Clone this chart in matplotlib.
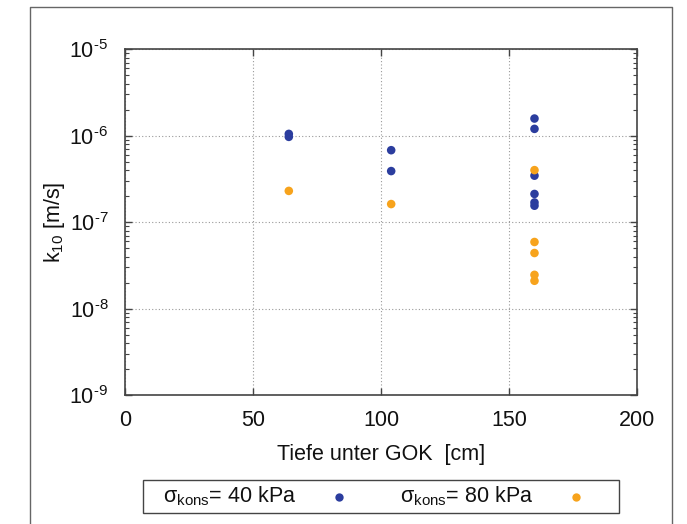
import matplotlib
matplotlib.use("Agg")
import matplotlib.pyplot as plt
from matplotlib.lines import Line2D
from matplotlib.patches import Rectangle
from matplotlib.ticker import LogLocator, NullFormatter, FixedLocator, FuncFormatter
import numpy as np

plt.rcParams['font.family'] = ['Liberation Sans', 'DejaVu Sans']
plt.rcParams['mathtext.fontset'] = 'custom'
plt.rcParams['mathtext.rm'] = 'Liberation Sans'
plt.rcParams['mathtext.it'] = 'Liberation Sans:italic'
plt.rcParams['mathtext.default'] = 'regular'

# Hydraulic conductivity k10 versus depth below ground level
depth_40 = [64, 64, 104, 104, 160, 160, 160, 160, 160, 160]
k10_40 = [1.05e-6, 0.97e-6, 6.8e-7, 3.9e-7, 1.58e-6, 1.2e-6, 3.45e-7, 2.12e-7, 1.69e-7, 1.55e-7]

depth_80 = [64, 104, 160, 160, 160, 160, 160]
k10_80 = [2.3e-7, 1.62e-7, 4.0e-7, 5.9e-8, 4.4e-8, 2.46e-8, 2.1e-8]

label_40 = r'σ$_{kons}$= 40 kPa'
label_80 = r'σ$_{kons}$= 80 kPa'
x_ticks = [0, 50, 100, 150, 200]

blue = '#2b3d9e'
orange = '#f7a31c'
frame_col = '#444444'
text_col = '#111111'
fs = 15.5

fig = plt.figure(figsize=(6.87, 5.24), dpi=100)
ax = fig.add_axes([0.182, 0.246, 0.745, 0.660])

ax.scatter(depth_40, k10_40, s=38, color=blue, edgecolors='none', zorder=3)
ax.scatter(depth_80, k10_80, s=38, color=orange, edgecolors='none', zorder=3)

ax.set_yscale('log')
ax.set_xlim(0, 200)
ax.set_ylim(1e-9, 1e-5)
ax.xaxis.set_major_locator(FixedLocator(x_ticks))
ax.yaxis.set_major_locator(LogLocator(base=10, numticks=10))
ax.yaxis.set_minor_locator(LogLocator(base=10, subs=range(2, 10), numticks=10))
ax.yaxis.set_minor_formatter(NullFormatter())


def pow10(v, pos):
    e = int(round(np.log10(v)))
    sign = '\u2010' if e < 0 else ''
    return r'10$^{%s%d}$' % (sign, abs(e))


ax.yaxis.set_major_formatter(FuncFormatter(pow10))

ax.grid(True, which='major', linestyle=(0, (1, 2)), color='#999999', linewidth=0.8)
for sp in ax.spines.values():
    sp.set_color(frame_col)
    sp.set_linewidth(1.2)

ax.tick_params(which='both', direction='in', top=True, right=True, colors=frame_col,
               labelcolor=text_col, labelsize=fs)
ax.tick_params(which='major', length=5, width=1.0)
ax.tick_params(which='minor', length=3, width=0.8)
ax.tick_params(axis='y', pad=12)
ax.tick_params(axis='x', pad=11)

ax.set_xlabel('Tiefe unter GOK  [cm]', fontsize=fs, color=text_col, labelpad=9)
ax.set_ylabel(r'k$_{10}$ [m/s]', fontsize=fs, color=text_col, labelpad=2)

# Legend box: label text followed by its marker
W, H = 687, 524
fig.add_artist(Rectangle((143 / W, 1 - 513 / H), (619 - 143) / W, 33 / H,
                         transform=fig.transFigure, fill=False,
                         edgecolor=frame_col, linewidth=1.0))
ly = 1 - 496.5 / H
for tx, mx, lab, col in [(163, 339, label_40, blue), (400, 576, label_80, orange)]:
    fig.text(tx / W, ly, lab, fontsize=fs, color=text_col, ha='left', va='center')
    fig.add_artist(Line2D([mx / W], [ly], transform=fig.transFigure, marker='o',
                          markersize=6.0, color=col, markeredgewidth=0, linestyle='none'))

# Outer frame, open at the bottom
x0, x1, ytop = 30 / W, 672 / W, 1 - 7 / H
fig.add_artist(Line2D([x0, x0, x1, x1], [0, ytop, ytop, 0], transform=fig.transFigure,
                      color='#666666', linewidth=1.0))

fig.savefig('out.png', dpi=100)
